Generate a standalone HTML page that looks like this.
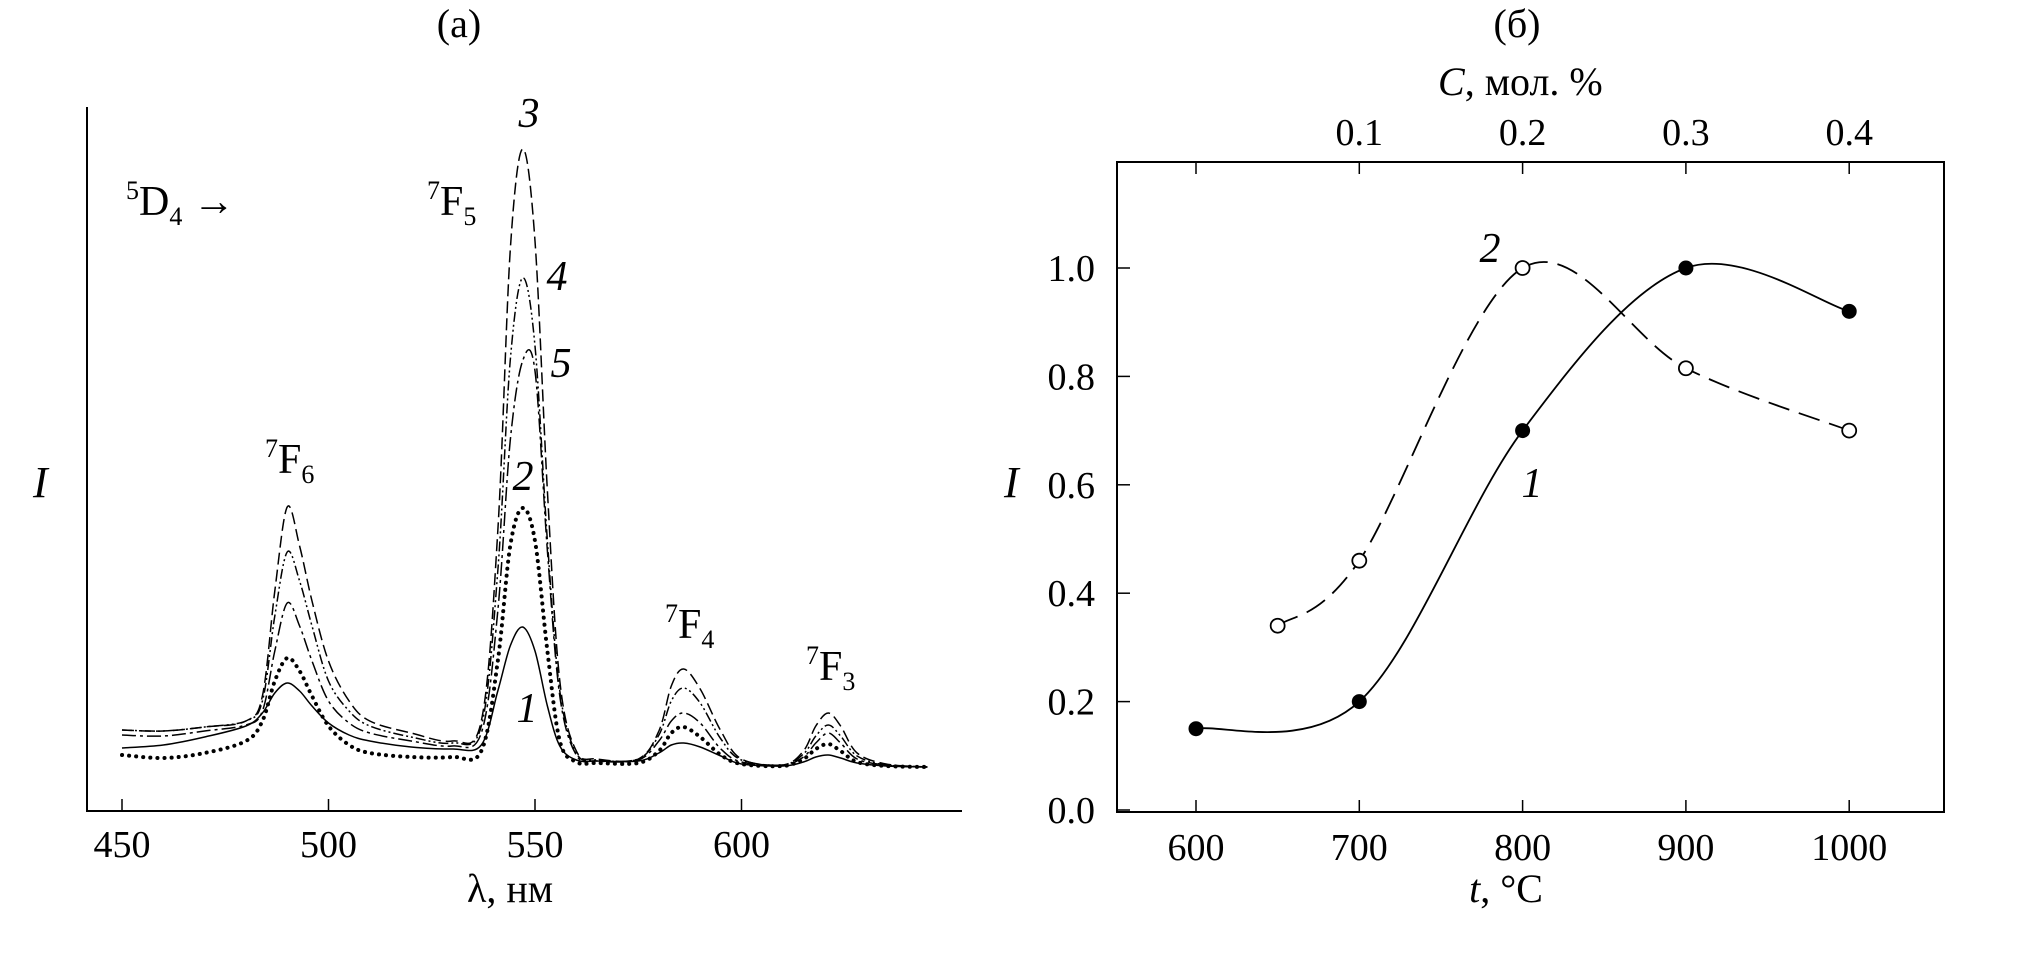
<!DOCTYPE html>
<html><head><meta charset="utf-8"><style>
html,body{margin:0;padding:0;background:#fff}
svg{display:block;font-family:"Liberation Serif",serif}
</style></head><body>
<svg id="fig" width="2020" height="960" viewBox="0 0 2020 960">
<g id="left"></g>
<g id="right"></g>
</svg>
<script>
// ---- Panel (a) data (relative intensity) ----
const wl = [450,460,470,480,484,487,490,493,496,500,505,510,520,530,537,541,544,547,550,553,556,560,565,575,580,583,586,590,595,600,610,615,618,621,624,628,635,645];
const s1 = [63,66,74,85,98,118,128,120,105,88,76,70,64,62,66,120,165,184,160,105,65,51,50,50,58,66,68,64,55,47,45,49,54,56,53,48,45,44];
const s2 = [56,53,58,70,90,130,153,140,115,85,66,58,54,54,60,150,265,303,270,160,70,49,48,48,60,78,84,74,56,47,45,52,62,67,60,49,45,44];
const s3 = [81,80,84,90,115,220,304,265,210,150,110,90,78,70,90,280,560,662,570,320,130,60,52,52,80,125,142,122,80,52,46,60,85,98,85,58,47,44];
const s4 = [81,80,84,90,110,195,259,230,185,130,100,85,74,68,85,240,450,533,465,270,120,58,51,52,76,110,123,108,72,51,46,57,75,86,75,55,46,44];
const s5 = [76,75,80,86,100,160,208,185,150,110,88,78,70,65,78,200,370,450,440,260,115,56,50,51,70,90,98,88,62,49,46,54,68,78,68,52,46,44];
const xTicksA = [450,500,550,600];
// ---- Panel (б) data ----
const t1 = [600,700,800,900,1000];
const v1 = [0.15,0.2,0.7,1.0,0.92];
const t2 = [650,700,800,900,1000];
const v2 = [0.34,0.46,1.0,0.815,0.70];
const xTicksB = [600,700,800,900,1000];
const yTicksB = [0.0,0.2,0.4,0.6,0.8,1.0];
const topTicks = [0.1,0.2,0.3,0.4];
const topTickT = [700,800,900,1000];

const NS="http://www.w3.org/2000/svg";
function mk(parent,tag,attrs,txt){const e=document.createElementNS(NS,tag);for(const k in attrs)e.setAttribute(k,attrs[k]);if(txt!==undefined)e.textContent=txt;parent.appendChild(e);return e;}
function spline(pts){let d="M"+pts[0][0].toFixed(1)+","+pts[0][1].toFixed(1);
 for(let i=0;i<pts.length-1;i++){const p0=pts[i-1]||pts[i],p1=pts[i],p2=pts[i+1],p3=pts[i+2]||p2;
  const c1=[p1[0]+(p2[0]-p0[0])/6,p1[1]+(p2[1]-p0[1])/6],c2=[p2[0]-(p3[0]-p1[0])/6,p2[1]-(p3[1]-p1[1])/6];
  d+=" C"+c1[0].toFixed(1)+","+c1[1].toFixed(1)+" "+c2[0].toFixed(1)+","+c2[1].toFixed(1)+" "+p2[0].toFixed(1)+","+p2[1].toFixed(1);}
 return d;}
function lab(P,x,y,html,name,size,anchor){const t=mk(P,'text',{x:x,y:y,'font-size':size||40,'text-anchor':anchor||'start'});t.innerHTML=html;return t;}

// ---- Panel (a) ----
const L=document.getElementById('left');
const ax=l=>122+(l-450)*4.13, ay=v=>811-v;
let e;
e=mk(L,'path',{d:'M87,107 V811 H962',fill:'none',stroke:'#000','stroke-width':2});


xTicksA.forEach(t=>{
 e=mk(L,'line',{x1:ax(t),x2:ax(t),y1:811,y2:799,stroke:'#000','stroke-width':1.5});
 
 
 e=mk(L,'text',{x:ax(t),y:857,'font-size':38,'text-anchor':'middle'},String(t));
 
 
});
const seriesA=[[s1,'none',1.5,'curve-1'],[s2,'0.1 7',4,'curve-2'],[s3,'12 5',1.5,'curve-3'],[s4,'10 3 2 3 2 3',1.5,'curve-4'],[s5,'14 4 3 4',1.5,'curve-5']];
seriesA.forEach(([s,da,w,n])=>{
 e=mk(L,'path',{d:spline(wl.map((l,i)=>[ax(l),ay(s[i])])),fill:'none',stroke:'#000','stroke-width':w,'stroke-dasharray':da,'stroke-linecap':n==='curve-2'?'round':'butt'});
 
 
});
lab(L,459,37,'(a)','panel-a-title',40,'middle');
lab(L,510,902,'λ, нм','x-axis-title-a',40,'middle');
lab(L,33,497,'<tspan font-style="italic">I</tspan>','y-axis-title-a',44);
lab(L,529,127,'<tspan font-style="italic">3</tspan>','label-3',42,'middle');
lab(L,557,290,'<tspan font-style="italic">4</tspan>','label-4',42,'middle');
lab(L,561,377,'<tspan font-style="italic">5</tspan>','label-5',42,'middle');
lab(L,523,490,'<tspan font-style="italic">2</tspan>','label-2',42,'middle');
lab(L,527,722,'<tspan font-style="italic">1</tspan>','label-1',42,'middle');
lab(L,126,215,'<tspan font-size="26" dy="-16">5</tspan><tspan dy="16">D</tspan><tspan font-size="26" dy="10">4</tspan><tspan dy="-10"> →</tspan>','transition-5d4',42);
lab(L,427,215,'<tspan font-size="26" dy="-16">7</tspan><tspan dy="16">F</tspan><tspan font-size="26" dy="10">5</tspan>','label-7f5',42);
lab(L,265,473,'<tspan font-size="26" dy="-16">7</tspan><tspan dy="16">F</tspan><tspan font-size="26" dy="10">6</tspan>','label-7f6',42);
lab(L,665,638,'<tspan font-size="26" dy="-16">7</tspan><tspan dy="16">F</tspan><tspan font-size="26" dy="10">4</tspan>','label-7f4',42);
lab(L,806,680,'<tspan font-size="26" dy="-16">7</tspan><tspan dy="16">F</tspan><tspan font-size="26" dy="10">3</tspan>','label-7f3',42);

// ---- Panel (б) ----
const R=document.getElementById('right');
const bx=t=>1196+(t-600)*1.633, by=v=>810-v*542;
e=mk(R,'rect',{x:1117,y:162,width:827,height:650,fill:'none',stroke:'#000','stroke-width':2});


xTicksB.forEach(t=>{
 e=mk(R,'line',{x1:bx(t),x2:bx(t),y1:812,y2:800,stroke:'#000','stroke-width':1.5});
 
 
 e=mk(R,'text',{x:bx(t),y:860,'font-size':38,'text-anchor':'middle'},String(t));
 
 
});
yTicksB.forEach(v=>{
 e=mk(R,'line',{x1:1117,x2:1130,y1:by(v),y2:by(v),stroke:'#000','stroke-width':1.5});
 
 
 e=mk(R,'text',{x:1095,y:by(v)+13,'font-size':38,'text-anchor':'end'},v.toFixed(1));
 
 
});
e=mk(R,'line',{x1:bx(600),x2:bx(600),y1:162,y2:174,stroke:'#000','stroke-width':1.5});


topTicks.forEach((c,i)=>{
 const x=bx(topTickT[i]);
 e=mk(R,'line',{x1:x,x2:x,y1:162,y2:174,stroke:'#000','stroke-width':1.5});
 
 
 e=mk(R,'text',{x:x,y:145,'font-size':38,'text-anchor':'middle'},c.toFixed(1));
 
 
});
e=mk(R,'path',{d:spline(t2.map((t,i)=>[bx(t),by(v2[i])])),fill:'none',stroke:'#000','stroke-width':1.8,'stroke-dasharray':'22 10'});


e=mk(R,'path',{d:spline(t1.map((t,i)=>[bx(t),by(v1[i])])),fill:'none',stroke:'#000','stroke-width':1.8});


t2.forEach((t,i)=>{
 e=mk(R,'circle',{cx:bx(t),cy:by(v2[i]),r:7,fill:'#fff',stroke:'#000','stroke-width':1.8});
 
 
});
t1.forEach((t,i)=>{
 e=mk(R,'circle',{cx:bx(t),cy:by(v1[i]),r:7.5,fill:'#000'});
 
 
});
lab(R,1517,37,'(б)','panel-b-title',40,'middle');
lab(R,1438,95,'<tspan font-style="italic">C</tspan>, мол. %','top-axis-title',40,'start');
lab(R,1506,902,'<tspan font-style="italic">t</tspan>, °C','x-axis-title-b',40,'middle');
lab(R,1004,497,'<tspan font-style="italic">I</tspan>','y-axis-title-b',44);
lab(R,1490,262,'<tspan font-style="italic">2</tspan>','label-curve-2',42,'middle');
lab(R,1532,497,'<tspan font-style="italic">1</tspan>','label-curve-1',42,'middle');
</script>
</body></html>
